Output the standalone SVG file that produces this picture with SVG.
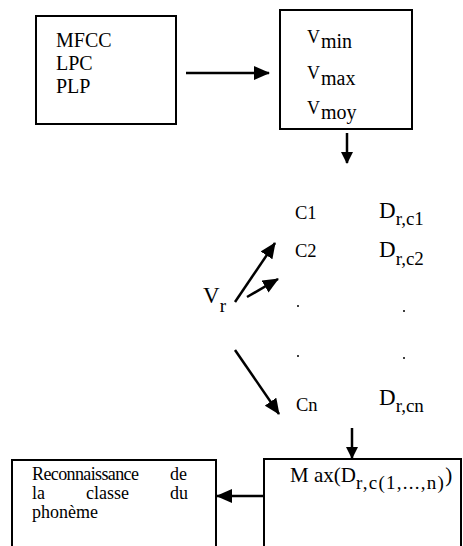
<svg xmlns="http://www.w3.org/2000/svg" width="463" height="546" viewBox="0 0 463 546">
<style>
text{font-family:"Liberation Serif","Times New Roman",serif;fill:#000}
.box{fill:#fff;stroke:#000;stroke-width:2}
.t{font-size:20px}
.r{font-size:18px}
.v{font-size:18px}
.s{font-size:20px}
.c{font-size:18.5px}
.d{font-size:23px}
.ds{font-size:19px}
.m{font-size:21px}
.ln{stroke:#000;stroke-width:2.5;fill:none}
</style>
<defs>
<marker id="ah" markerUnits="userSpaceOnUse" markerWidth="16" markerHeight="14" refX="15" refY="7" orient="auto">
<path d="M0,0 L16,7 L0,14 Z" fill="#000"/>
</marker>
<marker id="ahs" markerUnits="userSpaceOnUse" markerWidth="12" markerHeight="12" refX="11" refY="6" orient="auto">
<path d="M0,0 L12,6 L0,12 Z" fill="#000"/>
</marker>
</defs>
<rect width="463" height="546" fill="#fff"/>
<g id="features">
<rect class="box" x="36" y="16" width="140" height="108"/>
<text class="t" x="56" y="47">MFCC</text>
<text class="t" x="56" y="70">LPC</text>
<text class="t" x="56" y="93">PLP</text>
</g>
<g id="vectors">
<rect class="box" x="280" y="10" width="132" height="119"/>
<text x="307" y="43"><tspan class="v">V</tspan><tspan class="s" dx="1" dy="5">min</tspan></text>
<text x="307" y="79"><tspan class="v">V</tspan><tspan class="s" dx="1" dy="6">max</tspan></text>
<text x="307" y="114"><tspan class="v">V</tspan><tspan class="s" dx="1" dy="5">moy</tspan></text>
</g>
<g id="vr">
<text x="203" y="303"><tspan class="d">V</tspan><tspan class="ds" dy="9">r</tspan></text>
</g>
<g id="classes">
<text class="c" x="295" y="219">C1</text>
<text class="c" x="295" y="257">C2</text>
<text class="c" x="296" y="411">Cn</text>
<circle cx="298" cy="306" r="1"/>
<circle cx="298" cy="356" r="1"/>
</g>
<g id="distances">
<text x="379" y="218"><tspan class="d">D</tspan><tspan class="ds" dy="7">r,c1</tspan></text>
<text x="379" y="257"><tspan class="d">D</tspan><tspan class="ds" dy="8">r,c2</tspan></text>
<text x="379" y="405"><tspan class="d">D</tspan><tspan class="ds" dy="7">r,cn</tspan></text>
<circle cx="404" cy="311" r="1"/>
<circle cx="404" cy="358" r="1"/>
</g>
<g id="max">
<rect class="box" x="264" y="459" width="197" height="100"/>
<text x="290" y="482"><tspan class="m">M ax(D</tspan><tspan class="ds" dy="7" textLength="88">r,c(1,...,n)</tspan><tspan class="m" dy="-7">)</tspan></text>
</g>
<g id="recognition">
<rect class="box" x="12" y="460" width="204" height="100"/>
<text class="r" x="32" y="480" textLength="107">Reconnaissance</text>
<text class="r" x="170" y="480">de</text>
<text class="r" x="32" y="499">la</text>
<text class="r" x="86" y="499">classe</text>
<text class="r" x="170" y="499">du</text>
<text class="r" x="32" y="518">phonème</text>
</g>
<g id="connectors">
<line class="ln" x1="186" y1="73" x2="269" y2="73" marker-end="url(#ah)"/>
<line class="ln" x1="347" y1="133" x2="347" y2="163" marker-end="url(#ahs)"/>
<line class="ln" x1="235" y1="302" x2="275" y2="243" marker-end="url(#ah)"/>
<line class="ln" x1="247" y1="297" x2="278" y2="279" marker-end="url(#ah)"/>
<line class="ln" x1="235" y1="350" x2="279" y2="414" marker-end="url(#ah)"/>
<line class="ln" x1="352" y1="428" x2="352" y2="458" marker-end="url(#ahs)"/>
<line class="ln" x1="264" y1="496" x2="217" y2="496" marker-end="url(#ah)"/>
</g>
</svg>
